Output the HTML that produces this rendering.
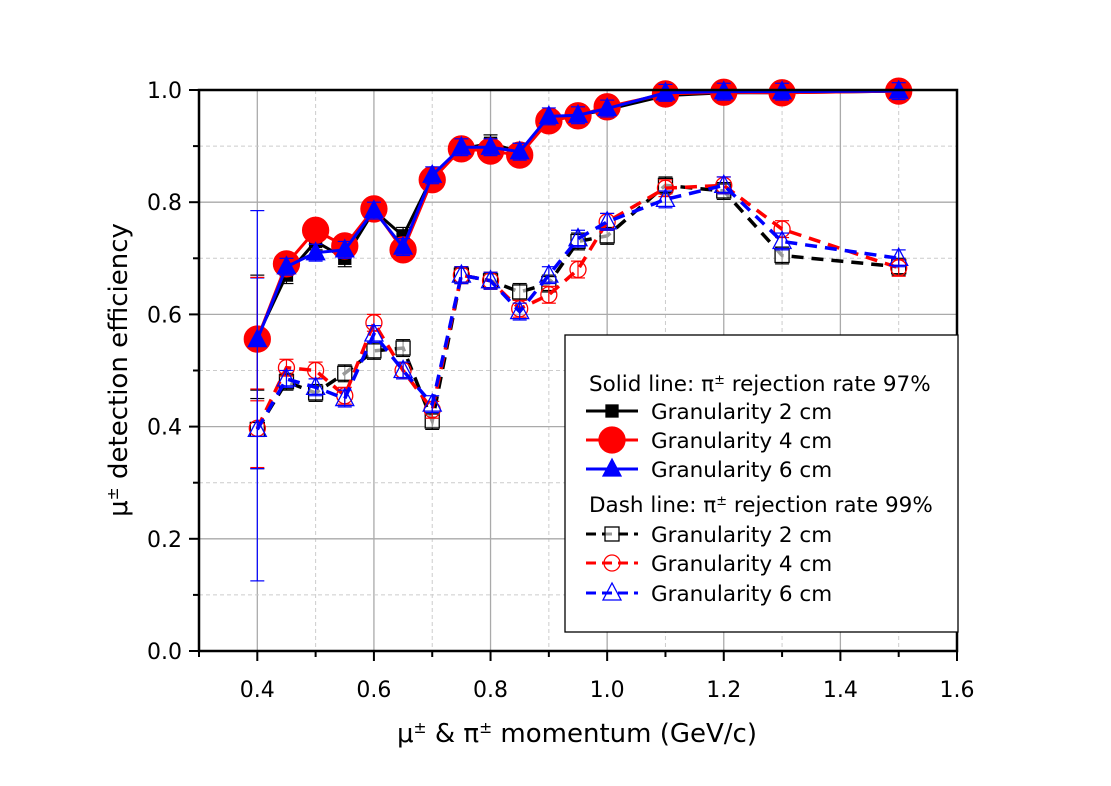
<!DOCTYPE html>
<html><head><meta charset="utf-8"><style>
body{margin:0;background:#fff}
svg text{font-family:"DejaVu Sans","Liberation Sans",sans-serif}
</style></head><body>
<svg id="chart" width="1111" height="781" viewBox="0 0 1111 781">
<g id="grid"></g><g id="series"></g><g id="axes"></g><g id="legend"></g>
</svg>
<script>
const momenta=[0.4,0.45,0.5,0.55,0.6,0.65,0.7,0.75,0.8,0.85,0.9,0.95,1.0,1.1,1.2,1.3,1.5];
const solid2=[0.56,0.67,0.73,0.70,0.785,0.74,0.845,0.895,0.905,0.89,0.95,0.955,0.965,0.99,0.995,0.995,0.998];
const solid4=[0.556,0.69,0.75,0.722,0.788,0.715,0.84,0.895,0.891,0.884,0.945,0.954,0.97,0.993,0.996,0.995,0.998];
const solid6=[0.555,0.685,0.71,0.715,0.785,0.72,0.848,0.898,0.898,0.89,0.953,0.955,0.967,0.995,0.997,0.997,0.998];
const dash2=[0.395,0.48,0.46,0.495,0.535,0.54,0.41,0.67,0.66,0.64,0.655,0.73,0.74,0.83,0.82,0.705,0.685];
const dash4=[0.397,0.505,0.50,0.455,0.585,0.50,0.43,0.67,0.66,0.61,0.635,0.68,0.765,0.825,0.83,0.752,0.683];
const dash6=[0.395,0.485,0.47,0.45,0.565,0.50,0.44,0.67,0.66,0.605,0.67,0.735,0.765,0.805,0.83,0.73,0.70];
const xTicks=["0.4","0.6","0.8","1.0","1.2","1.4","1.6"];
const yTicks=["0.0","0.2","0.4","0.6","0.8","1.0"];
const NS="http://www.w3.org/2000/svg";
const X0=199,X1=957,Y0=651,Y1=90;
const xs=v=>X0+(v-0.3)/(1.3)*(X1-X0);
const ys=v=>Y0-v*(Y0-Y1);
function mk(tag,attrs,parent){const e=document.createElementNS(NS,tag);for(const k in attrs)e.setAttribute(k,attrs[k]);parent.appendChild(e);return e;}
function pmText(el,str){
 const parts=str.split('±');parts.forEach((p,i)=>{if(p){const t=document.createElementNS(NS,'tspan');t.textContent=p;el.appendChild(t);}
  if(i<parts.length-1){const s=document.createElementNS(NS,'tspan');s.setAttribute('baseline-shift','super');s.setAttribute('font-size','60%');s.textContent='±';el.appendChild(s);}});}
const grid=document.getElementById('grid'),ser=document.getElementById('series'),axes=document.getElementById('axes'),leg=document.getElementById('legend');
for(let i=1;i<13;i++){const v=0.3+i*0.1;const major=Math.round(v*10)%2===0;
 const l=mk('line',{x1:xs(v),x2:xs(v),y1:Y1,y2:Y0,stroke:major?'#aaa':'#ccc','stroke-width':major?1.3:1,'stroke-dasharray':major?'':'4,3'},grid);
 }
for(let i=1;i<10;i++){const v=i*0.1;const major=i%2===0;
 const l=mk('line',{x1:X0,x2:X1,y1:ys(v),y2:ys(v),stroke:major?'#aaa':'#ccc','stroke-width':major?1.3:1,'stroke-dasharray':major?'':'4,3'},grid);
 }
function series(vals,color,dash,marker,name,solidMarker,e0){
 const g=mk('g',{},ser);
 const pts=vals.map((v,i)=>xs(momenta[i])+','+ys(v)).join(' ');
 mk('polyline',{points:pts,fill:'none',stroke:color,'stroke-width':solidMarker?3:3.5,'stroke-dasharray':dash?'12,8':''},g);
 vals.forEach((v,i)=>{const x=xs(momenta[i]),y=ys(v);const e=(i===0?e0:0.015);
  const eg=mk('g',{stroke:color,'stroke-width':1.2},g);
  mk('line',{x1:x,x2:x,y1:ys(v-e),y2:ys(v+e)},eg);
  mk('line',{x1:x-7,x2:x+7,y1:ys(v-e),y2:ys(v-e)},eg);
  mk('line',{x1:x-7,x2:x+7,y1:ys(v+e),y2:ys(v+e)},eg);
  drawMarker(g,marker,x,y,color,solidMarker);});
}
function drawMarker(g,marker,x,y,color,filled){let m;
 if(marker==='sq')m=mk('rect',{x:x-(filled?6:7),y:y-(filled?6:7),width:filled?12:14,height:filled?12:14,fill:filled?color:'#fff','fill-opacity':filled?1:0.6,stroke:color,'stroke-width':1.3},g);
 else if(marker==='ci')m=mk('circle',{cx:x,cy:y,r:filled?13:8,fill:filled?color:'none',stroke:color,'stroke-width':1.3},g);
 else m=mk('polygon',{points:`${x},${y-10} ${x-9},${y+7} ${x+9},${y+7}`,fill:filled?color:'none',stroke:color,'stroke-width':1.3},g);
 }
series(dash2,'#000000',true,'sq','dash-2cm-series',false,0.07);
series(dash4,'#ff0000',true,'ci','dash-4cm-series',false,0.07);
series(dash6,'#0000ff',true,'tr','dash-6cm-series',false,0.27);
series(solid2,'#000000',false,'sq','solid-2cm-series',true,0.11);
series(solid4,'#ff0000',false,'ci','solid-4cm-series',true,0.11);
series(solid6,'#0000ff',false,'tr','solid-6cm-series',true,0.23);
const fr=mk('rect',{x:X0,y:Y1,width:X1-X0,height:Y0-Y1,fill:'none',stroke:'#000','stroke-width':2.5},axes);

for(let i=0;i<14;i++){const v=0.3+i*0.1;const major=Math.round(v*10)%2===0;
 mk('line',{x1:xs(v),x2:xs(v),y1:Y0,y2:Y0+(major?10:6),stroke:'#000','stroke-width':2},axes);}
for(let i=0;i<11;i++){const v=i*0.1;const major=i%2===0;
 mk('line',{x1:X0,x2:X0-(major?10:6),y1:ys(v),y2:ys(v),stroke:'#000','stroke-width':2},axes);}
xTicks.forEach(t=>{const e=mk('text',{x:xs(+t),y:697,'text-anchor':'middle','font-size':22},axes);e.textContent=t;
 });
yTicks.forEach(t=>{const e=mk('text',{x:182,y:ys(+t)+8,'text-anchor':'end','font-size':22},axes);e.textContent=t;
 });
let xt=mk('text',{x:577,y:742,'text-anchor':'middle','font-size':26},axes);pmText(xt,'μ± & π± momentum (GeV/c)');

let yt=mk('text',{x:0,y:0,'text-anchor':'middle','font-size':26,transform:'translate(127,370) rotate(-90)'},axes);pmText(yt,'μ± detection efficiency');

const lb=mk('rect',{x:565,y:335,width:393,height:297,fill:'#fff',stroke:'#000','stroke-width':1.3},leg);

const rows=[[383,'Solid line: π± rejection rate 97%'],[411,null,'#000000','sq',true,'Granularity 2 cm'],[440,null,'#ff0000','ci',true,'Granularity 4 cm'],[469,null,'#0000ff','tr',true,'Granularity 6 cm'],
[504,'Dash line: π± rejection rate 99%'],[534,null,'#000000','sq',false,'Granularity 2 cm'],[563,null,'#ff0000','ci',false,'Granularity 4 cm'],[593,null,'#0000ff','tr',false,'Granularity 6 cm']];
rows.forEach(r=>{const g=mk('g',{},leg);
 if(r[1]){const t=mk('text',{x:589,y:r[0]+8,'font-size':21.5},g);pmText(t,r[1]);return;}
 mk('line',{x1:586,x2:638,y1:r[0],y2:r[0],stroke:r[2],'stroke-width':3,'stroke-dasharray':r[4]?'':'10,6'},g);
 drawMarker(g,r[3],612,r[0],r[2],r[4]);
 const t=mk('text',{x:651,y:r[0]+8,'font-size':21.5},g);t.textContent=r[5];});
</script>
</body></html>
